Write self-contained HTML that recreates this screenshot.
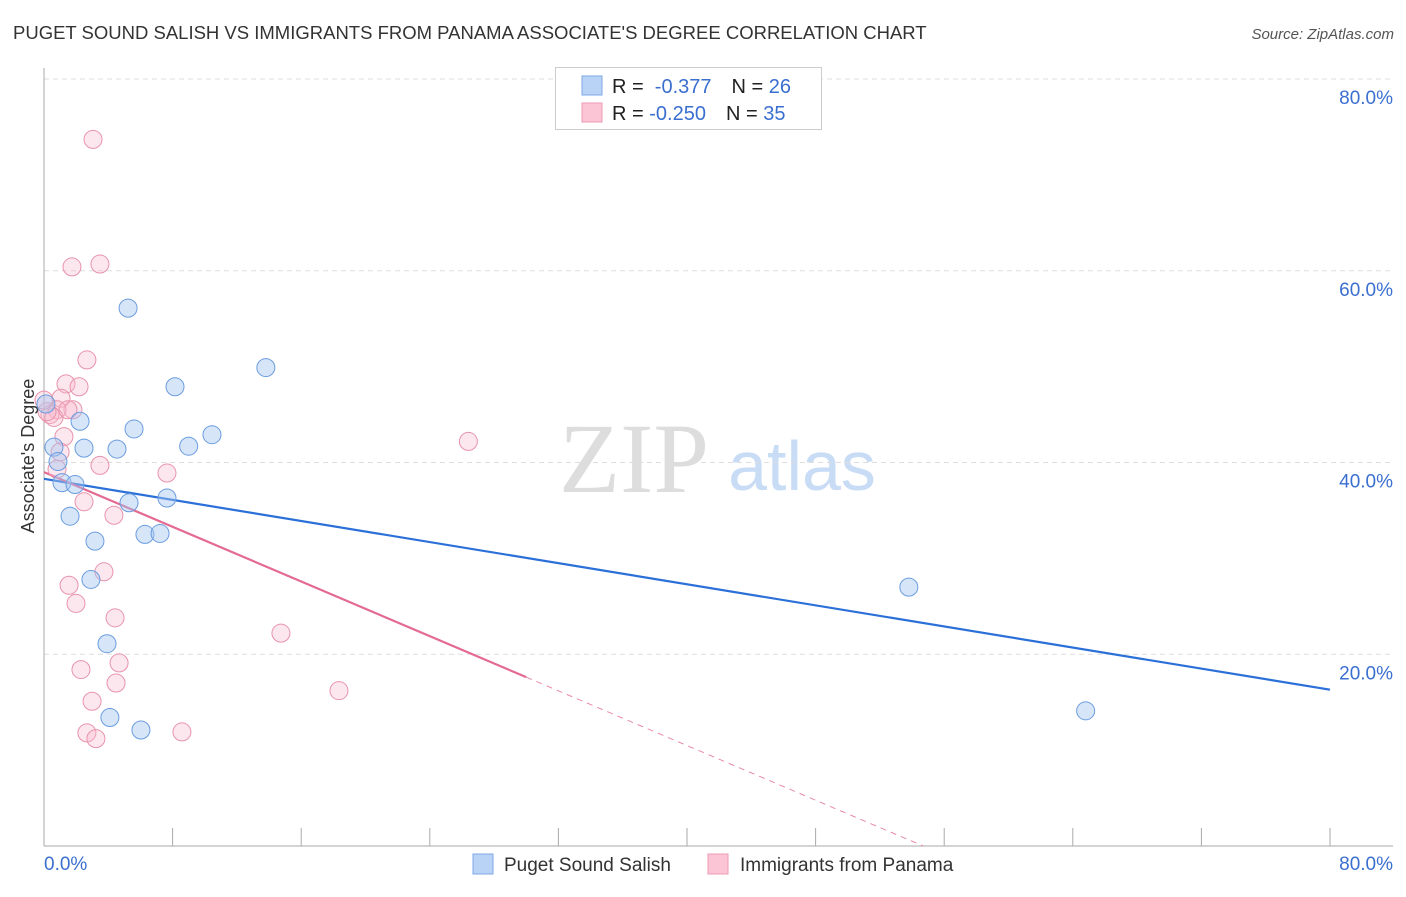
<!DOCTYPE html>
<html><head><meta charset="utf-8"><style>
body{margin:0;background:#fff;width:1406px;height:892px;overflow:hidden;font-family:"Liberation Sans",sans-serif}
</style></head><body>
<svg id="chart" width="1406" height="892" xmlns="http://www.w3.org/2000/svg" font-family="Liberation Sans, sans-serif">
<text x="13" y="39" font-size="18.5" fill="#333">PUGET SOUND SALISH VS IMMIGRANTS FROM PANAMA ASSOCIATE'S DEGREE CORRELATION CHART</text>
<text x="1394" y="39" font-size="15" fill="#555" text-anchor="end" font-style="italic">Source: ZipAtlas.com</text>
<g>
<text x="634" y="492" font-size="100" fill="#ddd" font-family="Liberation Serif, serif" text-anchor="middle">ZIP</text>
<text x="802" y="490" font-size="70" fill="#c8dcf5" text-anchor="middle">atlas</text>
</g>
<g id="grid"></g>
<g id="axes"></g>
<g id="lines"></g>
<g id="pts"></g>
<text transform="translate(34,456) rotate(-90)" font-size="18" fill="#333" text-anchor="middle">Associate's Degree</text>
<g>
<rect x="555.5" y="67.5" width="266" height="62" fill="#fff" stroke="#ccc"/>
<rect x="582" y="76" width="20" height="19" fill="#b8d3f5" stroke="#7fa9e6"/>
<rect x="582" y="103" width="20" height="19" fill="#fbc5d5" stroke="#ee9ab3"/>
<text x="612" y="93" font-size="20" fill="#222">R = <tspan fill="#3a6fd0">&#160;-0.377</tspan><tspan dx="20">N = </tspan><tspan fill="#3a6fd0">26</tspan></text>
<text x="612" y="120" font-size="20" fill="#222">R = <tspan fill="#3a6fd0">-0.250</tspan><tspan dx="20">N = </tspan><tspan fill="#3a6fd0">35</tspan></text>
</g>
<g>
<rect x="473" y="854" width="20" height="20" fill="#b8d3f5" stroke="#7fa9e6"/>
<text x="504" y="871" font-size="19" fill="#333">Puget Sound Salish</text>
<rect x="708" y="854" width="20" height="20" fill="#fbc5d5" stroke="#ee9ab3"/>
<text x="740" y="871" font-size="19" fill="#333">Immigrants from Panama</text>
</g>
</svg>
<script>
const yTicks=[20,40,60,80];
const yTickLabels=["20.0%","40.0%","60.0%","80.0%"];
const xTickLabels=["0.0%","80.0%"];
const blueX=[5.23,13.8,8.15,0.12,2.24,5.6,10.45,9.0,2.49,4.54,0.62,0.87,1.12,1.93,5.29,7.65,1.62,6.28,7.22,3.17,2.92,3.92,4.1,6.03,53.8,64.8];
const blueY=[56.1,49.9,47.9,46.1,44.3,43.5,42.9,41.7,41.5,41.4,41.6,40.1,37.9,37.7,35.8,36.3,34.4,32.5,32.6,31.8,27.8,21.1,13.4,12.1,27.0,14.1];
const pinkX=[3.05,1.74,3.48,2.67,1.37,2.18,1.06,1.8,0.81,0.37,0.62,0.19,0,1.49,1.24,1.0,0.81,3.48,2.49,4.35,7.65,26.4,3.73,1.56,1.99,4.42,14.74,2.3,4.67,4.48,2.99,18.35,2.67,3.23,8.58];
const pinkY=[73.7,60.4,60.7,50.7,48.2,47.9,46.7,45.5,45.5,45.0,44.7,45.3,46.5,45.5,42.7,41.1,39.3,39.7,35.9,34.5,38.9,42.2,28.6,27.2,25.3,23.8,22.2,18.4,19.1,17.0,15.1,16.2,11.8,11.2,11.9];
const blueTrend=[38.3,16.3];
const pinkTrend=[39.0,-0.713];
const NS="http://www.w3.org/2000/svg";
const X=v=>44+v*16.075, Y=v=>846-v*9.5875;
function mk(tag,attrs,parent){const e=document.createElementNS(NS,tag);for(const k in attrs)e.setAttribute(k,attrs[k]);document.getElementById(parent).appendChild(e);return e;}
yTicks.forEach((t,i)=>{
 const l=mk('line',{x1:44,x2:1393,y1:Y(t),y2:Y(t),stroke:'#ddd','stroke-dasharray':'5,4'},'grid');
 
 
 const tx=mk('text',{x:1393,y:Y(t)+25,'font-size':19,fill:'#3a6fd0','text-anchor':'end'},'grid');
 tx.textContent=yTickLabels[i];
 
 
});
mk('line',{x1:44,x2:44,y1:68,y2:846,stroke:'#aaa'},'axes');
mk('line',{x1:44,x2:1393,y1:846,y2:846,stroke:'#aaa'},'axes');
for(let i=0;i<=10;i++){mk('line',{x1:X(i*8),x2:X(i*8),y1:828,y2:846,stroke:'#aaa'},'axes');}
const xl0=mk('text',{x:44,y:870,'font-size':19,fill:'#3a6fd0'},'axes');xl0.textContent=xTickLabels[0];


const xl1=mk('text',{x:1393,y:870,'font-size':19,fill:'#3a6fd0','text-anchor':'end'},'axes');xl1.textContent=xTickLabels[1];


function dots(xs,ys,fill,stroke,name){xs.forEach((x,i)=>{const c=mk('circle',{cx:X(x),cy:Y(ys[i]),r:9,fill:fill,stroke:stroke,'stroke-width':1},'pts');
 
 });}
dots(pinkX,pinkY,'rgba(248,185,205,0.35)','#e893ac','panama-point');
dots(blueX,blueY,'rgba(165,198,240,0.45)','#6b9de0','salish-point');
const bl=mk('line',{x1:X(0),y1:Y(blueTrend[0]),x2:X(80),y2:Y(blueTrend[1]),stroke:'#2a70d8','stroke-width':2.2},'lines');


const pe=30, pz=-pinkTrend[0]/pinkTrend[1];
const pl=mk('line',{x1:X(0),y1:Y(pinkTrend[0]),x2:X(pe),y2:Y(pinkTrend[0]+pinkTrend[1]*pe),stroke:'#e46a92','stroke-width':2.2},'lines');


const pd=mk('line',{x1:X(pe),y1:Y(pinkTrend[0]+pinkTrend[1]*pe),x2:X(pz),y2:Y(0),stroke:'#e88aa8','stroke-width':1,'stroke-dasharray':'6,5'},'lines');


</script>
</body></html>
